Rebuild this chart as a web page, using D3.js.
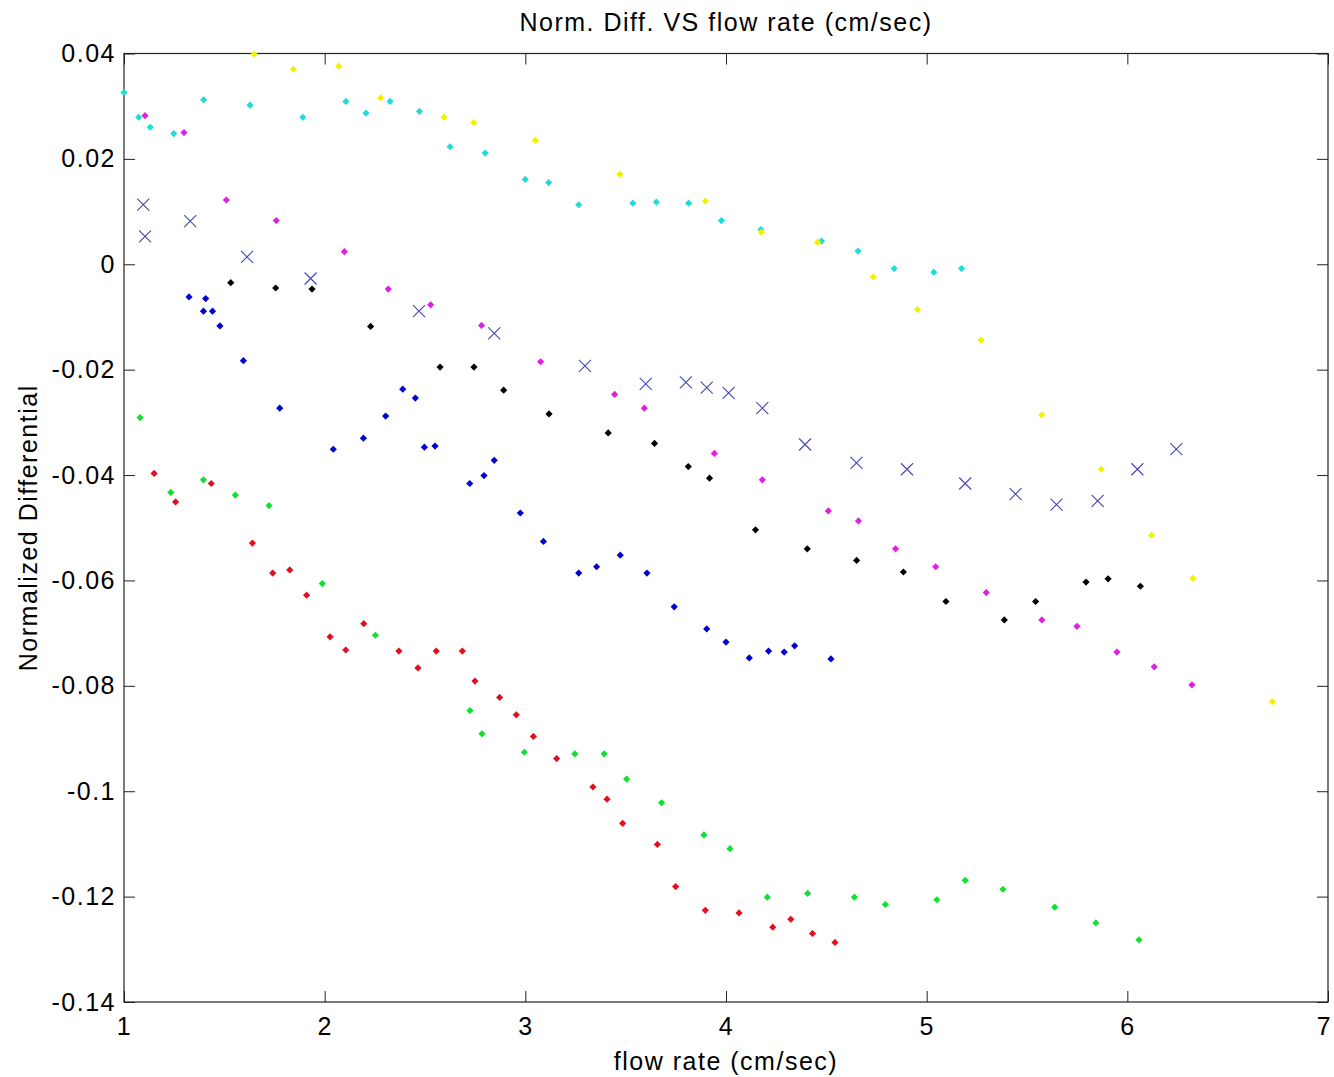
<!DOCTYPE html>
<html>
<head>
<meta charset="utf-8">
<script src="https://cdn.jsdelivr.net/npm/d3@7"></script>
<style>
  body { margin: 0; background: #fff; }
  svg text { font-family: "Liberation Sans", Arial, sans-serif; fill: #000; letter-spacing: 1.5px; }
</style>
</head>
<body>
<script>
const WIDTH = 1334, HEIGHT = 1077
const MARGINS = { top: 53.5, right: 6, bottom: 75, left: 124 }
const TICK = 11
const FONT = '25px'

const X_TICKS = [1, 2, 3, 4, 5, 6, 7]
const Y_TICKS = [0.04, 0.02, 0, -0.02, -0.04, -0.06, -0.08, -0.1, -0.12, -0.14]

// series: [flow rate, normalized differential]
const cyan = [
  [1.00, 0.0326], [1.073, 0.0279], [1.131, 0.0260], [1.248, 0.0248], [1.397, 0.0312],
  [1.628, 0.0302], [1.891, 0.0279], [2.106, 0.0309], [2.206, 0.0287], [2.326, 0.0309],
  [2.472, 0.0290], [2.625, 0.0223], [2.800, 0.0211], [3.000, 0.0161], [3.116, 0.0155],
  [3.266, 0.0113], [3.536, 0.0116], [3.653, 0.0118], [3.814, 0.0116], [3.977, 0.0083],
  [4.174, 0.0066], [4.476, 0.0044], [4.658, 0.0025], [4.838, -0.0008], [5.036, -0.0015],
  [5.174, -0.0008]
]
const yellow = [
  [1.648, 0.0399], [1.844, 0.0370], [2.070, 0.0376], [2.279, 0.0316], [2.595, 0.0279],
  [2.743, 0.0269], [3.050, 0.0235], [3.471, 0.0171], [3.897, 0.0120], [4.177, 0.0061],
  [4.456, 0.0042], [4.734, -0.0024], [4.955, -0.0086], [5.271, -0.0144], [5.574, -0.0286],
  [5.870, -0.0389], [6.121, -0.0514], [6.327, -0.0596], [6.722, -0.0830]
]
const magenta = [
  [1.105, 0.0282], [1.299, 0.0250], [1.510, 0.0122], [1.759, 0.0083], [2.098, 0.0024],
  [2.317, -0.0047], [2.528, -0.0077], [2.782, -0.0116], [3.076, -0.0185], [3.445, -0.0247],
  [3.593, -0.0273], [3.942, -0.0359], [4.181, -0.0409], [4.510, -0.0468], [4.660, -0.0487],
  [4.845, -0.0540], [5.045, -0.0574], [5.297, -0.0623], [5.574, -0.0675], [5.749, -0.0687],
  [5.948, -0.0736], [6.134, -0.0764], [6.322, -0.0798]
]
const crosses = [
  [1.096, 0.0113], [1.105, 0.0053], [1.330, 0.0082], [1.613, 0.0014], [1.930, -0.0027],
  [2.470, -0.0089], [2.845, -0.0131], [3.297, -0.0193], [3.600, -0.0227], [3.800, -0.0224],
  [3.904, -0.0234], [4.013, -0.0244], [4.181, -0.0273], [4.394, -0.0342], [4.650, -0.0377],
  [4.902, -0.0389], [5.192, -0.0416], [5.443, -0.0436], [5.647, -0.0456], [5.852, -0.0449],
  [6.050, -0.0389], [6.244, -0.0351]
]
const black = [
  [1.532, -0.0035], [1.756, -0.0045], [1.937, -0.0047], [2.229, -0.0118], [2.575, -0.0195],
  [2.744, -0.0195], [2.892, -0.0239], [3.118, -0.0284], [3.413, -0.0320], [3.644, -0.0340],
  [3.812, -0.0384], [3.918, -0.0406], [4.147, -0.0504], [4.405, -0.0540], [4.651, -0.0562],
  [4.884, -0.0584], [5.096, -0.0640], [5.387, -0.0675], [5.543, -0.0640], [5.794, -0.0603],
  [5.904, -0.0597], [6.065, -0.0611]
]
const blue = [
  [1.324, -0.0062], [1.407, -0.0065], [1.396, -0.0089], [1.441, -0.0089], [1.478, -0.0117],
  [1.595, -0.0183], [1.776, -0.0273], [2.043, -0.0351], [2.193, -0.0330], [2.304, -0.0288],
  [2.389, -0.0237], [2.452, -0.0254], [2.497, -0.0347], [2.550, -0.0345], [2.723, -0.0416],
  [2.794, -0.0401], [2.845, -0.0372], [2.975, -0.0472], [3.090, -0.0526], [3.266, -0.0586],
  [3.355, -0.0574], [3.473, -0.0552], [3.606, -0.0586], [3.742, -0.0650], [3.904, -0.0692],
  [4.000, -0.0717], [4.116, -0.0747], [4.212, -0.0734], [4.290, -0.0736], [4.342, -0.0724],
  [4.523, -0.0749]
]
const green = [
  [1.080, -0.0291], [1.233, -0.0433], [1.396, -0.0409], [1.555, -0.0438], [1.723, -0.0458],
  [1.988, -0.0606], [2.253, -0.0704], [2.724, -0.0847], [2.784, -0.0891], [2.995, -0.0926],
  [3.247, -0.0929], [3.393, -0.0929], [3.505, -0.0977], [3.679, -0.1022], [3.890, -0.1083],
  [4.020, -0.1109], [4.206, -0.1201], [4.407, -0.1194], [4.640, -0.1201], [4.794, -0.1215],
  [5.051, -0.1206], [5.192, -0.1169], [5.380, -0.1186], [5.638, -0.1220], [5.843, -0.1250],
  [6.058, -0.1282]
]
const red = [
  [1.150, -0.0397], [1.257, -0.0451], [1.435, -0.0416], [1.640, -0.0529], [1.741, -0.0586],
  [1.826, -0.0580], [1.910, -0.0628], [2.027, -0.0707], [2.105, -0.0732], [2.195, -0.0682],
  [2.370, -0.0734], [2.465, -0.0766], [2.556, -0.0734], [2.686, -0.0734], [2.749, -0.0791],
  [2.872, -0.0822], [2.955, -0.0855], [3.040, -0.0896], [3.156, -0.0938], [3.337, -0.0992],
  [3.407, -0.1015], [3.485, -0.1061], [3.658, -0.1101], [3.749, -0.1181], [3.897, -0.1226],
  [4.065, -0.1231], [4.233, -0.1258], [4.323, -0.1243], [4.431, -0.1270], [4.543, -0.1287]
]

// dot series drawn as small diamonds, in plotting order
const dotSeries = [
  { data: cyan, color: '#1fdcdc' },
  { data: yellow, color: '#f2f200' },
  { data: magenta, color: '#e020e0' },
  { data: black, color: '#000000' },
  { data: blue, color: '#0000d0' },
  { data: green, color: '#10e030' },
  { data: red, color: '#e01020' }
]
const CROSS_COLOR = '#4646b4'

const width = WIDTH - MARGINS.left - MARGINS.right
const height = HEIGHT - MARGINS.top - MARGINS.bottom

const x = d3.scaleLinear().domain([1, 7]).range([0, width])
const y = d3.scaleLinear().domain([-0.14, 0.04]).range([height, 0])

const svg = d3.select('body').append('svg')
    .attr('width', WIDTH)
    .attr('height', HEIGHT)

const g = svg.append('g')
    .attr('transform', 'translate(' + [MARGINS.left, MARGINS.top] + ')')

// axes, matlab style: inward ticks on all four sides
function styleAxis(sel) {
  sel.select('.domain').remove()
  sel.selectAll('line').attr('stroke', '#222')
  sel.selectAll('text').style('font-size', FONT)
}

const xAxis = g.append('g')
    .attr('transform', 'translate(0,' + height + ')')
    .call(d3.axisBottom(x).tickValues(X_TICKS).tickSizeInner(-TICK).tickSizeOuter(0)
      .tickPadding(15).tickFormat(d3.format('d')))
    .call(styleAxis)

// keep the last label inside the window edge
xAxis.selectAll('.tick text')
    .filter((d) => d === 7)
    .attr('dx', -4)

g.append('g')
    .call(d3.axisTop(x).tickValues(X_TICKS).tickSizeInner(-TICK).tickSizeOuter(0).tickFormat(''))
    .call(styleAxis)

g.append('g')
    .call(d3.axisLeft(y).tickValues(Y_TICKS).tickSizeInner(-TICK).tickSizeOuter(0)
      .tickPadding(8).tickFormat((d) => d3.format('')(+d.toFixed(2)).replace('−', '-')))
    .call(styleAxis)

g.append('g')
    .attr('transform', 'translate(' + width + ',0)')
    .call(d3.axisRight(y).tickValues(Y_TICKS).tickSizeInner(-TICK).tickSizeOuter(0).tickFormat(''))
    .call(styleAxis)

g.append('rect')
    .attr('width', width)
    .attr('height', height)
    .attr('fill', 'none')
    .attr('stroke', '#222')
    .attr('stroke-width', 1.2)

// markers
const r = 3.6
const diamond = 'M0,' + -r + 'L' + r + ',0L0,' + r + 'L' + -r + ',0Z'

dotSeries.forEach((s) => {
  g.append('g')
    .selectAll('path')
    .data(s.data)
    .enter().append('path')
      .attr('transform', (d) => 'translate(' + [x(d[0]), y(d[1])] + ')')
      .attr('d', diamond)
      .attr('fill', s.color)
})

const cs = 6
g.append('g')
  .selectAll('path')
  .data(crosses)
  .enter().append('path')
    .attr('transform', (d) => 'translate(' + [x(d[0]), y(d[1])] + ')')
    .attr('d', 'M' + -cs + ',' + -cs + 'L' + cs + ',' + cs + 'M' + -cs + ',' + cs + 'L' + cs + ',' + -cs)
    .attr('stroke', CROSS_COLOR)
    .attr('stroke-width', 1.1)
    .attr('fill', 'none')

// labels
svg.append('text')
    .attr('x', MARGINS.left + width / 2)
    .attr('y', 31)
    .attr('text-anchor', 'middle')
    .style('font-size', FONT)
    .text('Norm. Diff. VS flow rate (cm/sec)')

svg.append('text')
    .attr('x', MARGINS.left + width / 2)
    .attr('y', 1070)
    .attr('text-anchor', 'middle')
    .style('font-size', FONT)
    .text('flow rate (cm/sec)')

svg.append('text')
    .attr('transform', 'translate(37,' + (MARGINS.top + height / 2) + ') rotate(-90)')
    .attr('text-anchor', 'middle')
    .style('font-size', FONT)
    .text('Normalized Differential')
</script>
</body>
</html>
